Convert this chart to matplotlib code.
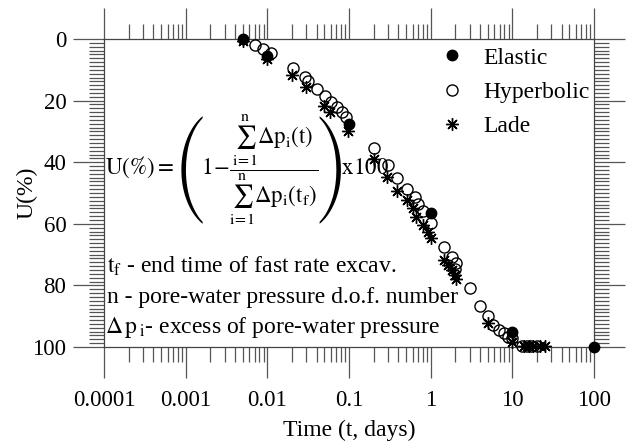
import matplotlib
matplotlib.use("Agg")
import matplotlib.pyplot as plt
import numpy as np
from matplotlib.ticker import FixedLocator, FixedFormatter, MultipleLocator, LogLocator, NullFormatter

plt.rcParams["font.family"] = ["Liberation Serif", "DejaVu Serif"]
plt.rcParams["mathtext.fontset"] = "stix"
plt.rcParams["mathtext.default"] = "rm"

# --- data ---
elastic_t = [0.005, 0.01, 0.1, 1.0, 10.0, 100.0]
elastic_u = [0.0, 5.5, 27.6, 56.6, 95.0, 100.0]

hyper_t = [0.007, 0.0089, 0.0112, 0.0208, 0.0288, 0.0317, 0.041, 0.051, 0.061,
           0.072, 0.083, 0.093, 0.2, 0.30, 0.39, 0.51, 0.64, 0.70, 0.81, 1.0,
           1.45, 1.8, 2.0, 2.07, 3.0, 4.0, 5.0, 5.8, 6.9, 7.9, 8.9, 10.0,
           13.0, 15.0, 17.0, 20.0]
hyper_u = [2.0, 3.3, 4.6, 9.5, 12.4, 13.5, 16.3, 18.5, 20.3,
           22.0, 23.6, 25.2, 35.3, 40.9, 45.2, 48.6, 51.2, 53.6, 56.0, 59.8,
           67.4, 70.7, 74.7, 72.8, 81.0, 86.7, 90.0, 92.9, 94.5, 95.6, 96.6, 97.0,
           99.6, 99.6, 99.6, 99.6]

lade_t = [0.005, 0.01, 0.0199, 0.03, 0.05, 0.059, 0.098, 0.2, 0.29, 0.39, 0.51,
          0.61, 0.66, 0.81, 0.93, 1.0, 1.45, 1.64, 1.8, 1.97, 2.07, 5.0, 10.0,
          14.0, 16.0, 18.0, 22.0, 25.0]
lade_u = [0.5, 6.5, 11.7, 15.7, 21.8, 23.6, 30.0, 39.0, 44.7, 49.2, 52.3,
          55.0, 57.7, 60.4, 62.6, 64.7, 71.8, 73.4, 75.0, 76.6, 77.9, 92.3, 98.3,
          99.6, 99.6, 99.6, 99.6, 99.6]

x_ticks = [1e-4, 1e-3, 1e-2, 1e-1, 1, 10, 100]
x_labels = ["0.0001", "0.001", "0.01", "0.1", "1", "10", "100"]
y_ticks = [0, 20, 40, 60, 80, 100]

W, H = 628, 442
fig = plt.figure(figsize=(W / 100, H / 100), dpi=100)
ax = fig.add_axes([104 / W, 1 - 347 / H, 490 / W, 308 / H])

star = (8, 2, 0)
ax.plot(lade_t, lade_u, ls="none", marker=star, ms=9, mew=1.0, color="black",
        label="Lade", clip_on=False, zorder=3)
ax.plot(hyper_t, hyper_u, ls="none", marker="o", ms=8, mew=1.0, mfc="none",
        mec="black", label="Hyperbolic", clip_on=False, zorder=4)
ax.plot(elastic_t, elastic_u, ls="none", marker="o", ms=7.5, color="black",
        label="Elastic", clip_on=False, zorder=5)

ax.set_xscale("log")
ax.set_xlim(1e-4, 100)
ax.set_ylim(100, 0)

ax.xaxis.set_major_locator(FixedLocator(x_ticks))
ax.xaxis.set_major_formatter(FixedFormatter(x_labels))
ax.xaxis.set_minor_locator(LogLocator(base=10, subs=np.arange(2, 10)))
ax.xaxis.set_minor_formatter(NullFormatter())
ax.yaxis.set_major_locator(FixedLocator(y_ticks))
ax.yaxis.set_minor_locator(MultipleLocator(1.25))

tick_col = "#555555"
ax.tick_params(which="major", direction="out", length=22, width=0.9, color=tick_col,
               labelsize=16.5, top=True, right=True)
ax.tick_params(which="minor", direction="out", length=11, width=0.9, color=tick_col,
               top=True, right=True)
ax.tick_params(axis="x", which="major", pad=9)
ax.tick_params(axis="y", which="major", pad=5)
for s in ax.spines.values():
    s.set_color("#444444")
    s.set_linewidth(0.9)

ax.set_xlabel("Time (t, days)", fontsize=17)
ax.xaxis.set_label_coords(0.5, -(420 - 347) / 308)
ax.set_ylabel("U(%)", fontsize=17)
ax.yaxis.set_label_coords(-(104 - 38) / 490, 0.5)

leg = ax.legend(handles=ax.lines[::-1], loc="upper left", frameon=False, fontsize=17,
                bbox_to_anchor=(440 / W, 1 - 47 / H), bbox_transform=fig.transFigure,
                borderpad=0, borderaxespad=0, handlelength=1.0, handletextpad=0.85,
                labelspacing=0.54)

formula = (r"$\mathrm{U(\%)}=\left(\!1\!-\!\dfrac{\sum_{\mathrm{i\!=\!1}}^{\mathrm{n}}\Delta \mathrm{p}_\mathrm{i}\mathrm{(t)}}"
           r"{\sum_{\mathrm{i\!=\!1}}^{\mathrm{n}}\Delta \mathrm{p}_\mathrm{i}\mathrm{(t}_\mathrm{f}\mathrm{)}}\!\right)\!\mathrm{x100}$")
fig.text(105 / W, 1 - 170 / H, formula, fontsize=16.5, ha="left", va="center")

fig.text(107 / W, 1 - 266 / H, r"$\mathrm{t_f}$ - end time of fast rate excav.", fontsize=17,
         ha="left", va="center")
fig.text(107 / W, 1 - 298 / H, "n - pore-water pressure d.o.f. number", fontsize=17,
         ha="left", va="center")
fig.text(105 / W, 1 - 327 / H, r"$\Delta\,\mathrm{p}_{\,\mathrm{i}}$- excess of pore-water pressure",
         fontsize=17, ha="left", va="center")

fig.savefig("out.png", dpi=100)
